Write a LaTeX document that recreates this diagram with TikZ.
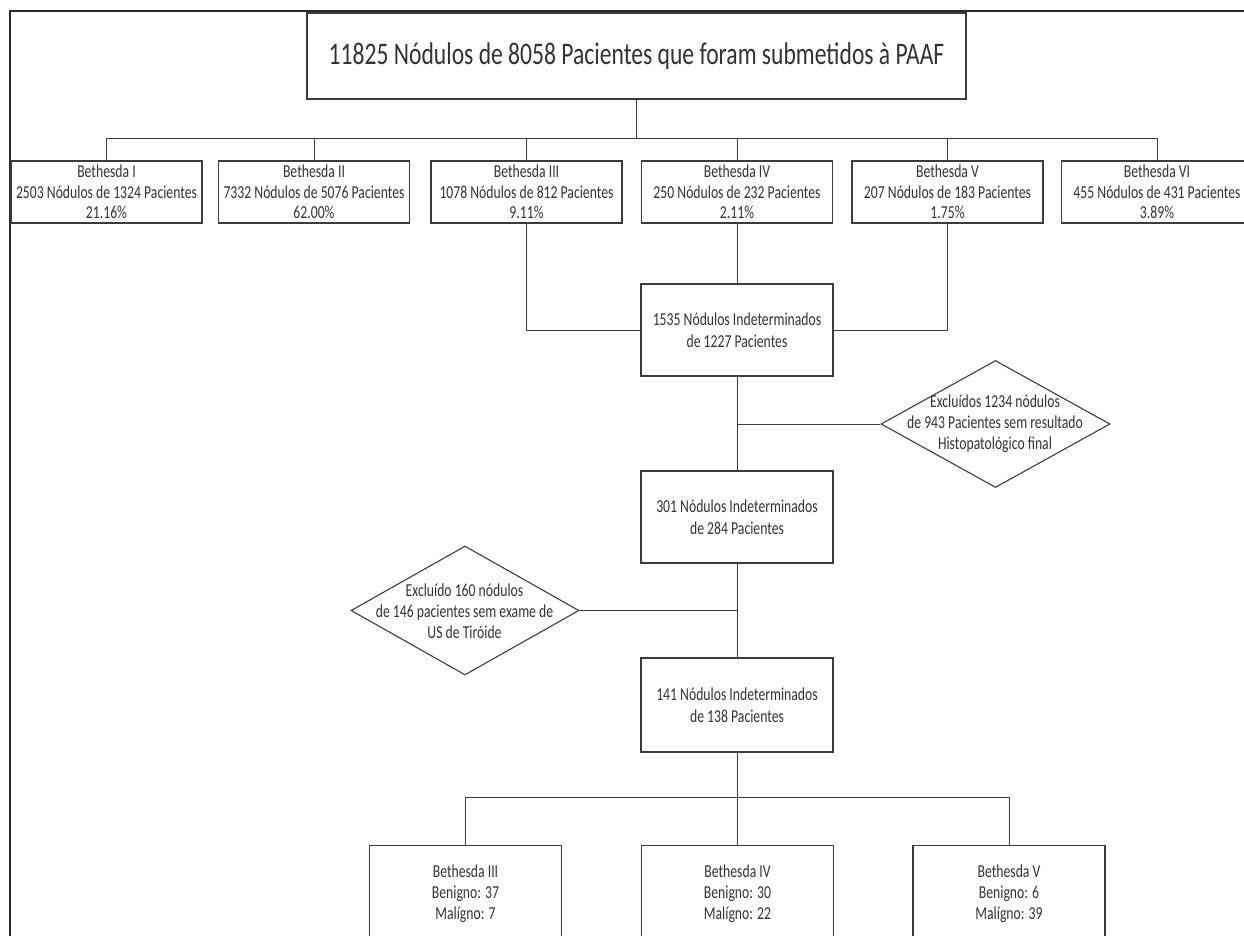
\documentclass[tikz,border=0pt]{standalone}
\usepackage{fontspec}
\usepackage{graphicx}
\setmainfont{Carlito}
\usetikzlibrary{shapes.geometric}
\definecolor{linec}{HTML}{3C3C3C}
\definecolor{txtc}{HTML}{333333}
\definecolor{framec}{HTML}{2A2A2A}
\newcommand\VS[1]{\scalebox{1}[1.33]{#1}}
\begin{document}
\begin{tikzpicture}[x=1pt,y=-1pt,
  rbox/.style={draw=linec, line width=1.1pt, minimum width=191pt, minimum height=62pt,
    inner sep=0pt, align=center, font=\fontsize{13.7}{20.5}\selectfont, text=txtc},
  mbox/.style={rbox, minimum width=192pt, minimum height=92pt, font=\fontsize{13.7}{21.5}\selectfont},
  emptybox/.style={draw=linec, line width=1.1pt, minimum width=192pt, minimum height=140pt, inner sep=0pt},
  dia/.style={draw=linec, line width=1.1pt, diamond, minimum width=229pt, minimum height=127pt, inner sep=0pt},
  lbl/.style={align=center, inner sep=0pt, font=\fontsize{13.7}{20.8}\selectfont, text=txtc},
  conn/.style={draw=linec, line width=0.9pt}]
\clip (0,0) rectangle (1244,936);
\fill[white] (0,0) rectangle (1244,936);
% frame
\draw[framec, line width=2pt] (9.5,1000) -- (9.5,11) -- (1300,11);

% title
\node[rbox, minimum width=659pt, minimum height=86pt, font=\fontsize{23.6}{28}\selectfont] (top) at (636.5,56)
  {\VS{11825 Nódulos de 8058 Pacientes que foram submetidos à PAAF}};

% first row
\node[rbox] (b1) at (106.5,192) {\VS{Bethesda I}\\\VS{2503 Nódulos de 1324 Pacientes}\\\VS{21.16\%}};
\node[rbox] (b2) at (314,192) {\VS{Bethesda II}\\\VS{7332 Nódulos de 5076 Pacientes}\\\VS{62.00\%}};
\node[rbox] (b3) at (526.5,192) {\VS{Bethesda III}\\\VS{1078 Nódulos de 812 Pacientes}\\\VS{9.11\%}};
\node[rbox] (b4) at (737,192) {\VS{Bethesda IV}\\\VS{250 Nódulos de 232 Pacientes}\\\VS{2.11\%}};
\node[rbox] (b5) at (947.5,192) {\VS{Bethesda V}\\\VS{207 Nódulos de 183 Pacientes}\\\VS{1.75\%}};
\node[rbox] (b6) at (1157,192) {\VS{Bethesda VI}\\\VS{455 Nódulos de 431 Pacientes}\\\VS{3.89\%}};

\coordinate (hub) at (636.5,138);
\draw[conn] (top.south) -- (hub);
\draw[conn] (b1.north) -- (b1.north |- hub) -- (b6.north |- hub) -- (b6.north);
\draw[conn] (b2.north) -- (b2.north |- hub);
\draw[conn] (b3.north) -- (b3.north |- hub);
\draw[conn] (b4.north) -- (b4.north |- hub);
\draw[conn] (b5.north) -- (b5.north |- hub);

% middle chain
\node[mbox] (m1) at (737,330) {\VS{1535 Nódulos Indeterminados}\\\VS{de 1227 Pacientes}};
\node[mbox] (m2) at (737,517) {\VS{301 Nódulos Indeterminados}\\\VS{de 284 Pacientes}};
\node[mbox, minimum height=94pt] (m3) at (737,705) {\VS{141 Nódulos Indeterminados}\\\VS{de 138 Pacientes}};

\draw[conn] (b3.south) |- (m1.west);
\draw[conn] (b5.south) |- (m1.east);
\draw[conn] (b4.south) -- (m1.north);
\draw[conn] (m1.south) -- (m2.north);
\draw[conn] (m2.south) -- (m3.north);

% diamonds
\node[dia] (d1) at (995.5,424) {};
\node[lbl] (d1t) at (995,424) {\VS{Excluídos 1234 nódulos}\\\VS{de 943 Pacientes sem resultado}\\\VS{Histopatológico final}};
\draw[conn] (d1.west) -- (d1.west -| m1.south);

\node[dia, minimum width=228pt, minimum height=129pt] (d2) at (465,610.5) {};
\node[lbl] (d2t) at (464.5,611) {\VS{Excluído 160 nódulos}\\\VS{de 146 pacientes sem exame de}\\\VS{US de Tiróide}};
\draw[conn] (d2.east) -- (d2.east -| m2.south);

% bottom row
\coordinate (hub2) at (737,797);
\node[emptybox, anchor=north] (c1) at (465.5,845) {};
\node[emptybox, anchor=north] (c2) at (737.5,845) {};
\node[emptybox, anchor=north] (c3) at (1009,845) {};
\node[lbl] (c1t) at (465.5,894) {\VS{Bethesda III}\\\VS{Benigno: 37}\\\VS{Malígno: 7}};
\node[lbl] (c2t) at (737.5,894) {\VS{Bethesda IV}\\\VS{Benigno: 30}\\\VS{Malígno: 22}};
\node[lbl] (c3t) at (1009,894) {\VS{Bethesda V}\\\VS{Benigno: 6}\\\VS{Malígno: 39}};

\draw[conn] (m3.south) -- (hub2);
\draw[conn] (c1.north) -- (c1.north |- hub2) -- (c3.north |- hub2) -- (c3.north);
\draw[conn] (c2.north) -- (c2.north |- hub2);
\end{tikzpicture}
\end{document}
